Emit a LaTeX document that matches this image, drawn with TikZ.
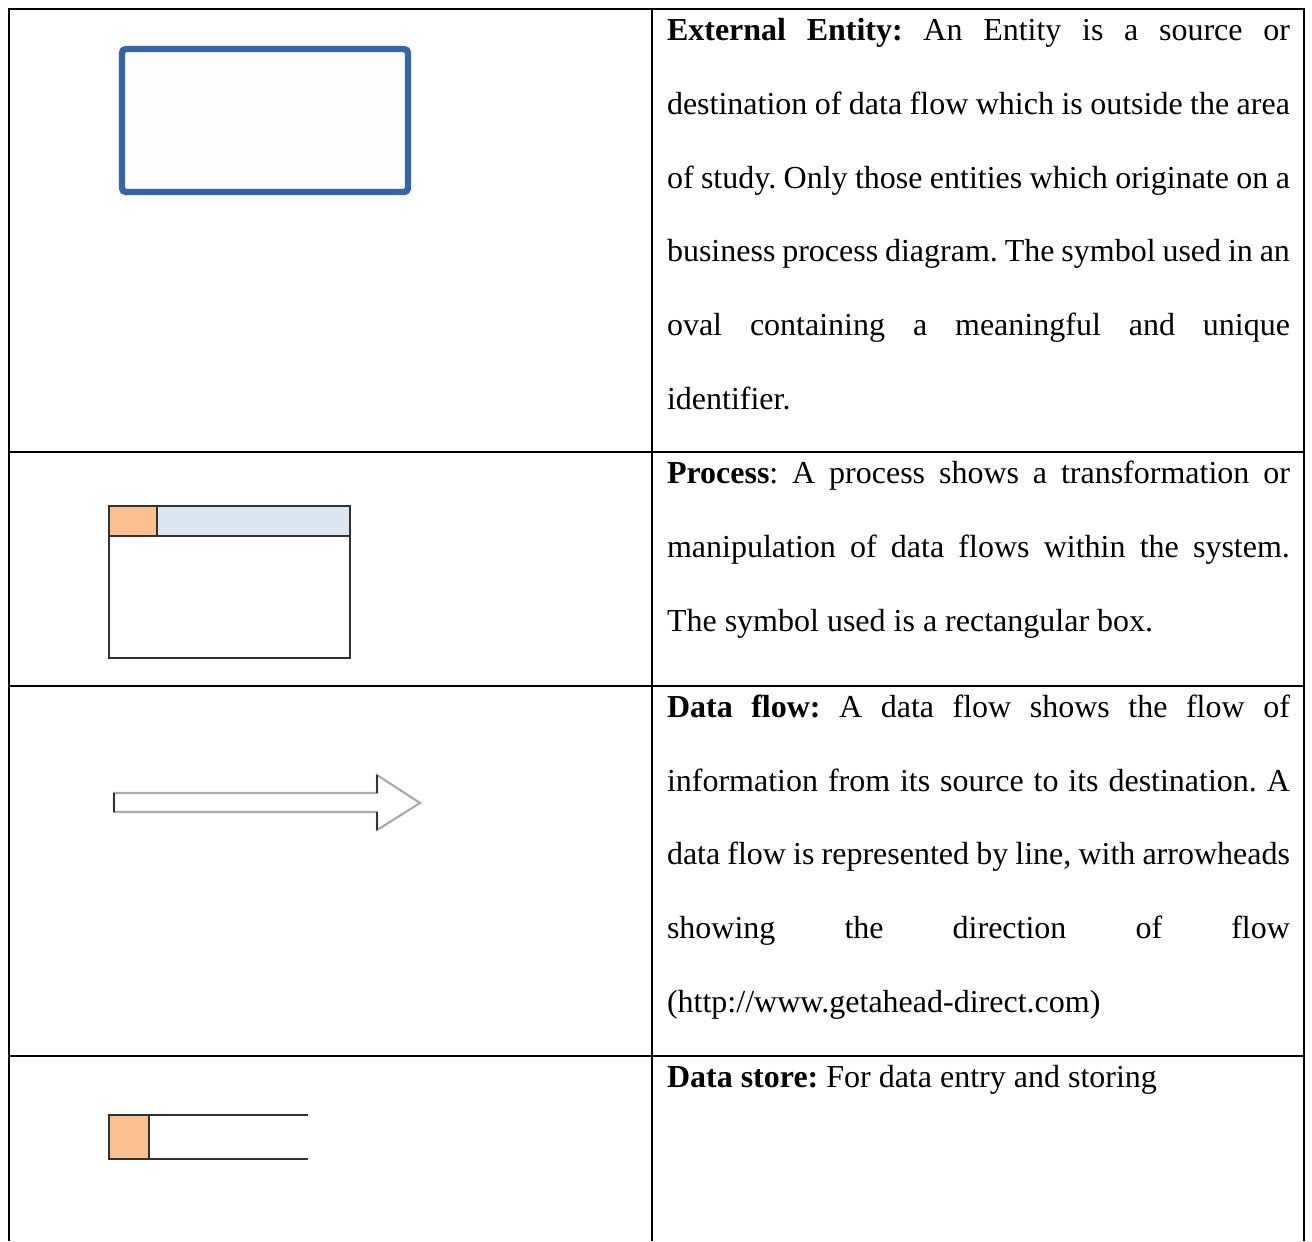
\documentclass[tikz,border=0pt]{standalone}
\usepackage{fontspec}
\setmainfont{Liberation Serif}
\frenchspacing
\definecolor{entityblue}{RGB}{54,101,165}
\definecolor{procorange}{RGB}{250,192,144}
\definecolor{procblue}{RGB}{220,230,242}
\definecolor{edgedark}{RGB}{50,50,50}
\definecolor{arrowgray}{RGB}{170,170,170}
\newlength\colw
\setlength\colw{233.6pt}
% one justified line of the description column
\newcommand\jline[1]{\hbox to \colw{#1}}
\begin{document}
\begin{tikzpicture}[x=0.375pt,y=-0.375pt,
  grid/.style={line width=0.8pt,black},
  txt/.style={anchor=base west,inner sep=0pt,outer sep=0pt,font=\fontsize{12pt}{14pt}\selectfont},
  shapeedge/.style={draw=edgedark,line width=0.6pt}]
\useasboundingbox (0,0) rectangle (1312,1241);
\fill[white] (0,0) rectangle (1312,1241);

% table rules
\draw[grid] (9,1241) -- (9,9) -- (1304,9) -- (1304,1241);
\draw[grid] (652,9) -- (652,1241);
\draw[grid] (9,452) -- (1304,452);
\draw[grid] (9,686) -- (1304,686);
\draw[grid] (9,1056) -- (1304,1056);

% external entity symbol
\draw[entityblue,line width=2.4pt,rounded corners=1.5pt,fill={rgb,255:red,253;green,253;blue,251}]
  (122,49) rectangle (408,192);

% process symbol
\fill[procorange] (109,506) rectangle (157,536);
\fill[procblue] (157,506) rectangle (350,536);
\draw[shapeedge] (109,506) rectangle (350,658);
\draw[shapeedge] (109,536) -- (350,536);
\draw[shapeedge] (157,506) -- (157,536);

% data flow symbol
\draw[arrowgray,line width=0.8pt,fill=white]
  (114,793) -- (377,793) -- (377,775) -- (420,803) -- (377,830) -- (377,812) -- (114,812) -- cycle;
\draw[edgedark,line width=0.7pt] (114,793) -- (114,812);
\draw[edgedark,line width=0.7pt] (377,775) -- (377,793);
\draw[edgedark,line width=0.7pt] (377,812) -- (377,830);

% data store symbol
\fill[procorange] (109,1115) rectangle (149,1159);
\draw[shapeedge] (308,1115) -- (109,1115) -- (109,1159) -- (308,1159);
\draw[shapeedge] (149,1115) -- (149,1159);

% descriptions
\node[txt] (e1) at (667,40)  {\jline{\textbf{External Entity:} An Entity is a source or}};
\node[txt] (e2) at (667,114) {\jline{destination of data flow which is outside the area}};
\node[txt] (e3) at (667,188) {\jline{of study. Only those entities which originate on a}};
\node[txt] (e4) at (667,261) {\jline{business process diagram. The symbol used in an}};
\node[txt] (e5) at (667,335) {\jline{oval containing a meaningful and unique}};
\node[txt] (e6) at (667,409) {identifier.};

\node[txt] (p1) at (667,483) {\jline{\textbf{Process}: A process shows a transformation or}};
\node[txt] (p2) at (667,557) {\jline{manipulation of data flows within the system.}};
\node[txt] (p3) at (667,631) {The symbol used is a rectangular box.};

\node[txt] (f1) at (667,717) {\jline{\textbf{Data flow:} A data flow shows the flow of}};
\node[txt] (f2) at (667,791) {\jline{information from its source to its destination. A}};
\node[txt] (f3) at (667,864) {\jline{data flow is represented by line, with arrowheads}};
\node[txt] (f4) at (667,938) {\jline{showing the direction of flow}};
\node[txt] (f5) at (667,1012) {(http://www.getahead-direct.com)};

\node[txt] (s1) at (667,1087) {\textbf{Data store:} For data entry and storing};
\end{tikzpicture}
\end{document}
